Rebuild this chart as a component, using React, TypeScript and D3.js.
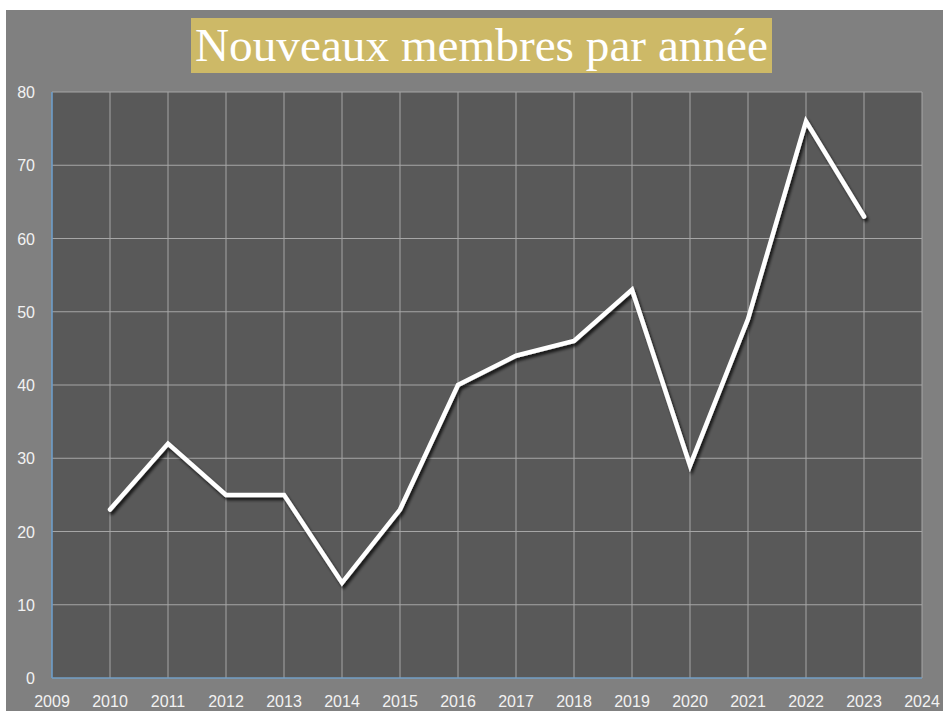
import React from "react";
import * as d3 from "d3";

const years = [2010, 2011, 2012, 2013, 2014, 2015, 2016, 2017, 2018, 2019, 2020, 2021, 2022, 2023];
const members = [23, 32, 25, 25, 13, 23, 40, 44, 46, 53, 29, 49, 76, 63];
const xTicks = d3.range(2009, 2025);
const yTicks = [0, 10, 20, 30, 40, 50, 60, 70, 80];
const title = "Nouveaux membres par année";

export default function App() {
  const W = 943, H = 711;
  const left = 52, right = 922, top = 92, bottom = 678;
  const x = d3.scaleLinear().domain([2009, 2024]).range([left, right]);
  const y = d3.scaleLinear().domain([0, 80]).range([bottom, top]);
  const line = d3.line<number>().x((_, i) => x(years[i])).y((d) => y(d));
  const path = line(members) || "";
  return (
    <svg width={W} height={H} style={{ position: "absolute", left: 0, top: 0 }}>
      <defs>
        <filter id="sh" x="-10%" y="-10%" width="120%" height="120%">
          <feDropShadow dx="2" dy="3" stdDeviation="1.5" floodColor="#000" floodOpacity="0.75" />
        </filter>
      </defs>
      <rect x={0} y={0} width={W} height={H} fill="#fff" />
      <rect x={6} y={10} width={W - 6} height={H - 10} fill="#808080" />
      <rect x={191} y={18} width={581} height={55} fill="#cdb967" />
      <text x={195} y={61} textAnchor="start" fill="#fff" fontFamily="Liberation Serif, DejaVu Serif, serif" fontSize={46} textLength={573} lengthAdjust="spacingAndGlyphs">{title}</text>
      <rect x={left} y={top} width={right - left} height={bottom - top} fill="#595959" />
      {yTicks.map((t) => (
        <line key={"gy" + t} x1={left} x2={right} y1={y(t)} y2={y(t)} stroke="#a6a6a6" strokeWidth={1} />
      ))}
      {xTicks.map((t) => (
        <line key={"gx" + t} x1={x(t)} x2={x(t)} y1={top} y2={bottom} stroke="#a6a6a6" strokeWidth={1} />
      ))}
      <line x1={left} x2={left} y1={top} y2={bottom} stroke="#5b9bd5" strokeWidth={1.2} />
      <line x1={left} x2={right} y1={bottom} y2={bottom} stroke="#5b9bd5" strokeWidth={1.2} />
      {yTicks.map((t) => (
        <text key={"ty" + t} x={35} y={y(t) + 6} textAnchor="end" fill="#f2f2f2" fontFamily="Liberation Sans, Arial, sans-serif" fontSize={16}>{t}</text>
      ))}
      {xTicks.map((t) => (
        <text key={"tx" + t} x={x(t)} y={707} textAnchor="middle" fill="#f2f2f2" fontFamily="Liberation Sans, Arial, sans-serif" fontSize={16}>{t}</text>
      ))}
      <path d={path} fill="none" stroke="#fff" strokeWidth={4.5} strokeLinejoin="miter" strokeLinecap="round" filter="url(#sh)" />
    </svg>
  );
}
